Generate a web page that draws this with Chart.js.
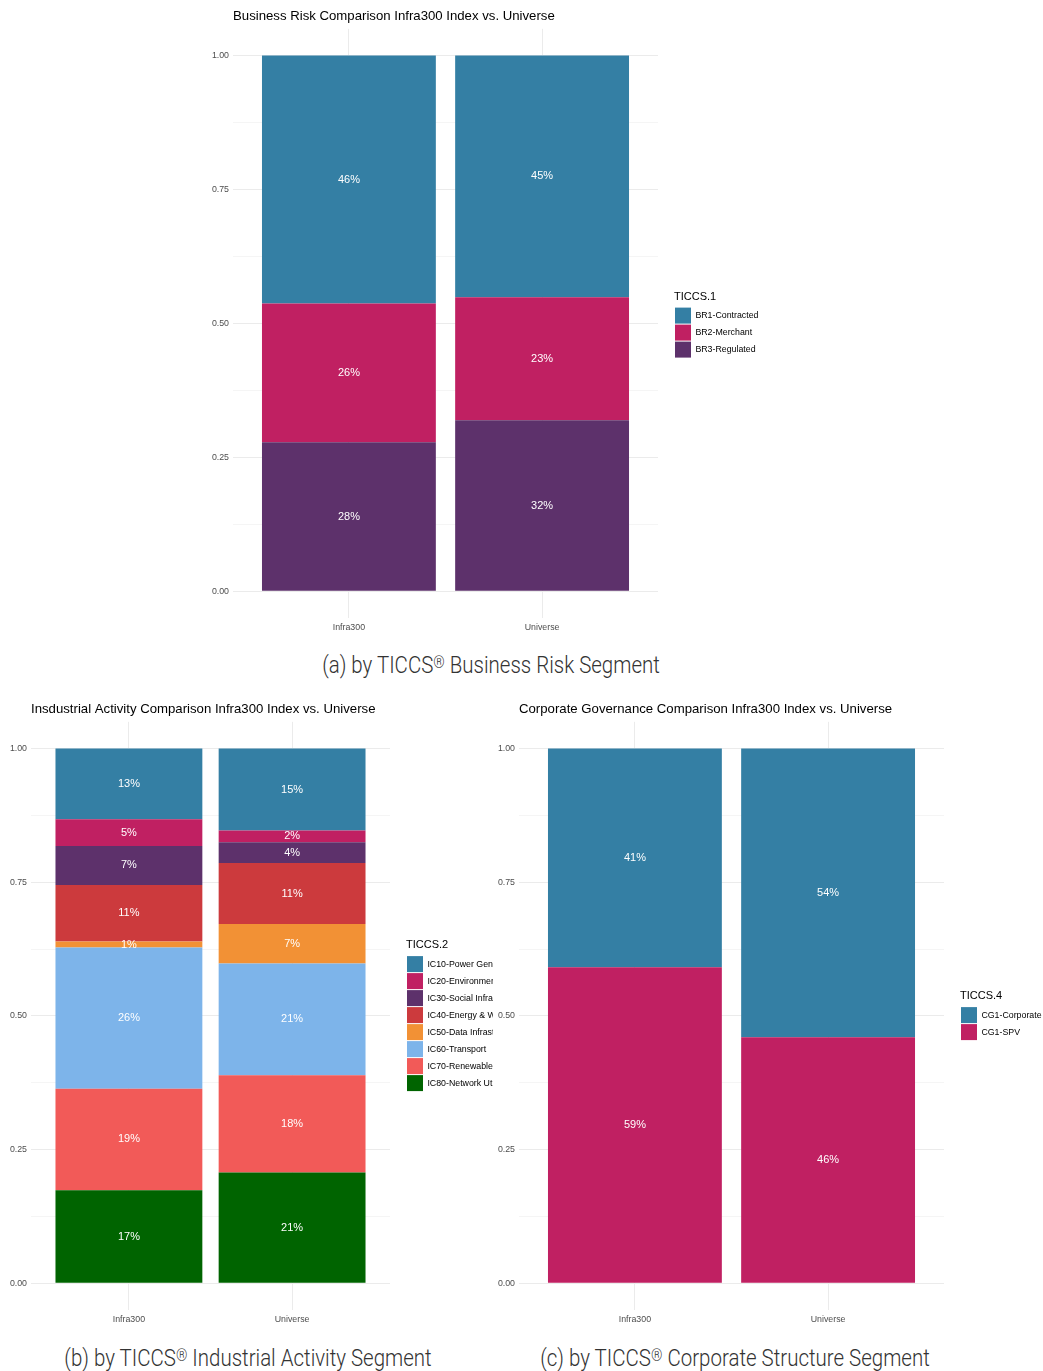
<!DOCTYPE html>
<html>
<head>
<meta charset="utf-8">
<script src="https://cdn.jsdelivr.net/npm/chart.js@4.4.0/dist/chart.umd.min.js"></script>
<style>
  body { margin: 0; background: #fff; width: 1043px; height: 1371px; position: relative; overflow: hidden; }
  canvas { position: absolute; }
  .caption { position: absolute; transform: translateX(-50%) scaleX(0.89); white-space: nowrap;
    font-family: Roboto, 'Noto Sans', sans-serif; font-weight: 300; font-size: 23px; color: #333; }
  .caption span { font-size: 0.7em; vertical-align: 0.3em; }
</style>
</head>
<body>
<canvas id="chartA" width="559" height="638" style="left:205px;top:0px"></canvas>
<canvas id="chartB" width="493" height="640" style="left:0px;top:690px"></canvas>
<canvas id="chartC" width="548" height="640" style="left:495px;top:690px"></canvas>
<div class="caption" style="left:491px;top:652px">(a) by TICCS<span>®</span> Business Risk Segment</div>
<div class="caption" style="left:248px;top:1345px">(b) by TICCS<span>®</span> Industrial Activity Segment</div>
<div class="caption" style="left:735px;top:1345px">(c) by TICCS<span>®</span> Corporate Structure Segment</div>
<script>
// categories on the x axis (same for all three charts)
let categories = ['Infra300', 'Universe'];

// y axis ticks
let yTickValues = [0, 0.25, 0.5, 0.75, 1];
let yTickLabels = ['0.00', '0.25', '0.50', '0.75', '1.00'];

// (a) business risk, bottom to top
let riskNames = ['BR3-Regulated', 'BR2-Merchant', 'BR1-Contracted'];
let riskInfra300 = [0.278, 0.259, 0.463];
let riskUniverse = [0.319, 0.230, 0.451];
let riskColors = ['#5d316b', '#c02062', '#347fa4'];

// (b) industrial activity, bottom to top
let activityNames = ['IC80-Network Utilities', 'IC70-Renewable Power', 'IC60-Transport', 'IC50-Data Infrastructure',
  'IC40-Energy & Water Resources', 'IC30-Social Infrastructure', 'IC20-Environmental Services', 'IC10-Power Generation'];
let activityInfra300 = [0.174, 0.190, 0.264, 0.011, 0.106, 0.073, 0.050, 0.132];
let activityUniverse = [0.207, 0.182, 0.209, 0.074, 0.114, 0.039, 0.022, 0.153];
let activityColors = ['#006400', '#f25a58', '#7db4ea', '#f29135', '#cc3a3d', '#5d316b', '#c02062', '#347fa4'];

// (c) corporate structure, bottom to top
let structureNames = ['CG1-SPV', 'CG1-Corporate'];
let structureInfra300 = [0.591, 0.409];
let structureUniverse = [0.460, 0.540];
let structureColors = ['#c02062', '#347fa4'];

let fontFamily = "'Liberation Sans', Arial, sans-serif";

// white percentage labels in the middle of each segment
let segmentLabels = {
  id: 'segmentLabels',
  afterDatasetsDraw(chart) {
    let ctx = chart.ctx;
    ctx.save();
    ctx.font = '11px ' + fontFamily;
    ctx.fillStyle = '#ffffff';
    ctx.textAlign = 'center';
    ctx.textBaseline = 'middle';
    chart.data.datasets.forEach(function(ds, i) {
      chart.getDatasetMeta(i).data.forEach(function(bar, j) {
        let v = ds.data[j].y;
        ctx.fillText(Math.round(v * 100) + '%', bar.x, (bar.y + bar.base) / 2);
      });
    });
    ctx.restore();
  }
};

function makeChart(id, title, legendTitle, names, infra, universe, colors, yWidth, legendWidth, titlePad) {
  let datasets = names.map(function(name, i) {
    return {
      label: name,
      data: [{ x: 1, y: infra[i] }, { x: 2, y: universe[i] }],
      backgroundColor: colors[i],
      borderWidth: 0,
      categoryPercentage: 0.9,
      barPercentage: 1.0
    };
  });
  let ctx = document.getElementById(id).getContext('2d');
  return new Chart(ctx, {
    type: 'bar',
    data: { datasets: datasets },
    plugins: [segmentLabels],
    options: {
      responsive: false,
      animation: false,
      layout: { padding: 0 },
      plugins: {
        tooltip: { enabled: false },
        title: {
          display: true, text: title, align: 'start', fullSize: false, color: '#000',
          font: { family: fontFamily, size: 13.2, weight: 'normal' },
          padding: titlePad
        },
        legend: {
          position: 'right', align: 'center', reverse: true, maxWidth: legendWidth,
          title: { display: true, text: legendTitle, position: 'start', color: '#000',
            font: { family: fontFamily, size: 11 }, padding: { top: 12, bottom: 2 } },
          labels: { boxWidth: 16, boxHeight: 16, padding: 1, color: '#000',
            font: { family: fontFamily, size: 8.8 } }
        }
      },
      scales: {
        x: {
          type: 'linear', stacked: true, min: 0.4, max: 2.6, offset: false,
          afterBuildTicks: function(s) { s.ticks = categories.map(function(_, i) { return { value: i + 1 }; }); },
          afterFit: function(s) { s.height = 20; },
          ticks: { padding: 4, color: '#4d4d4d', font: { family: fontFamily, size: 8.8 },
            callback: function(v) { return categories[v - 1]; } },
          grid: { color: '#ebebeb', lineWidth: 1, drawTicks: false, offset: false },
          border: { display: false }
        },
        y: {
          stacked: true, min: -0.05, max: 1.05,
          afterBuildTicks: function(s) {
            let t = [];
            yTickValues.forEach(function(v, i) {
              t.push({ value: v });
              if (i < yTickValues.length - 1) t.push({ value: (v + yTickValues[i + 1]) / 2 });
            });
            s.ticks = t;
          },
          afterFit: function(s) { s.width = yWidth; },
          ticks: { padding: 4, color: '#4d4d4d', font: { family: fontFamily, size: 8.8 },
            callback: function(v) {
              let k = yTickValues.indexOf(v);
              return k >= 0 ? yTickLabels[k] : '';
            } },
          grid: {
            drawTicks: false,
            color: '#ebebeb',
            lineWidth: function(c) { return c.tick && yTickValues.indexOf(c.tick.value) >= 0 ? 1 : 0.5; }
          },
          border: { display: false }
        },
        gap: {
          type: 'linear', position: 'right', display: true,
          afterFit: function(s) { s.width = 16; },
          ticks: { display: false }, grid: { display: false }, border: { display: false }
        }
      }
    }
  });
}

makeChart('chartA', 'Business Risk Comparison Infra300 Index vs. Universe', 'TICCS.1',
  riskNames, riskInfra300, riskUniverse, riskColors, 28, 90, { top: 8, bottom: 5 });
makeChart('chartB', 'Insdustrial Activity Comparison Infra300 Index vs. Universe', 'TICCS.2',
  activityNames, activityInfra300, activityUniverse, activityColors, 31, 87, { top: 11, bottom: 5 });
makeChart('chartC', 'Corporate Governance Comparison Infra300 Index vs. Universe', 'TICCS.4',
  structureNames, structureInfra300, structureUniverse, structureColors, 24, 83, { top: 11, bottom: 5 });
</script>
</body>
</html>
